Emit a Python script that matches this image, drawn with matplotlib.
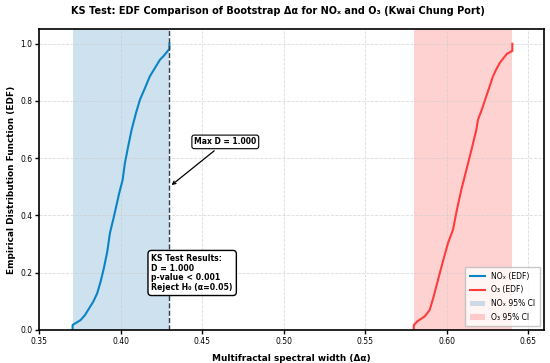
import numpy as np
import matplotlib.pyplot as plt

# EDF points (x = delta alpha, y = cumulative fraction)
nox_x = [0.3703, 0.3703, 0.3728, 0.3753, 0.3779, 0.3805, 0.3830, 0.3854, 0.3875, 0.3895,
         0.3916, 0.3932, 0.3952, 0.3973, 0.3989, 0.4010, 0.4024, 0.4044, 0.4065, 0.4092,
         0.4116, 0.4147, 0.4177, 0.4208, 0.4239, 0.4263, 0.4290, 0.4297, 0.4297]
nox_y = [0.0, 0.0175, 0.026, 0.035, 0.052, 0.076, 0.099, 0.128, 0.169, 0.216,
         0.274, 0.338, 0.385, 0.437, 0.478, 0.524, 0.583, 0.641, 0.699, 0.758,
         0.804, 0.845, 0.886, 0.915, 0.944, 0.958, 0.977, 0.980, 1.0]
o3_x = [0.5796, 0.5796, 0.5822, 0.5863, 0.5894, 0.5918, 0.5945, 0.5972, 0.6006, 0.6037,
        0.6061, 0.6088, 0.6119, 0.6150, 0.6180, 0.6190, 0.6217, 0.6241, 0.6262, 0.6282,
        0.6303, 0.6323, 0.6347, 0.6368, 0.6395, 0.6401, 0.6401]
o3_y = [0.0, 0.017, 0.032, 0.047, 0.070, 0.116, 0.175, 0.233, 0.303, 0.350,
        0.420, 0.490, 0.559, 0.629, 0.699, 0.734, 0.775, 0.816, 0.851, 0.886,
        0.911, 0.932, 0.950, 0.965, 0.973, 0.975, 1.0]

nox_ci = (0.3703, 0.4297)
o3_ci = (0.5796, 0.6401)
max_d_x = 0.4297
ks_d = 1.000

fig, ax = plt.subplots(figsize=(5.5, 3.63), dpi=100)
fig.subplots_adjust(left=0.0718, right=0.989, bottom=0.091, top=0.919)

ax.axvspan(*nox_ci, color='#1f77b4', alpha=0.22, lw=0, label='NOₓ 95% CI')
ax.axvspan(*o3_ci, color='#ff4d4d', alpha=0.25, lw=0, label='O₃ 95% CI')
ax.plot(nox_x, nox_y, color='#0a84c6', lw=1.5, label='NOₓ (EDF)')
ax.plot(o3_x, o3_y, color='#ff3b3b', lw=1.5, label='O₃ (EDF)')
ax.axvline(max_d_x, color='#2c3e50', ls='--', lw=1.0)

ax.annotate(f'Max D = {ks_d:.3f}', xy=(max_d_x, 0.5), xytext=(0.464, 0.657),
            ha='center', va='center', fontsize=5.5, fontweight='bold',
            bbox=dict(boxstyle='round,pad=0.3', fc='white', ec='black', lw=0.8),
            arrowprops=dict(arrowstyle='->', color='black', lw=0.9))

ax.text(0.222, 0.253, f'KS Test Results:\nD = {ks_d:.3f}\np-value < 0.001\nReject H₀ (α=0.05)',
        transform=ax.transAxes, ha='left', va='top', fontsize=5.6, fontweight='bold',
        linespacing=1.1,
        bbox=dict(boxstyle='round,pad=0.45', fc='white', ec='black', lw=1.0))

ax.set_xlim(0.35, 0.6595)
ax.set_ylim(0, 1.05)
ax.set_xticks([0.35, 0.40, 0.45, 0.50, 0.55, 0.60, 0.65])
ax.tick_params(labelsize=5.5, width=1, length=3, pad=2)
ax.grid(True, ls='--', color='#cccccc', alpha=0.7, lw=0.6)
for s in ax.spines.values():
    s.set_linewidth(1.2)

ax.set_xlabel('Multifractal spectral width (Δα)', fontsize=6.4, fontweight='bold', labelpad=6)
ax.set_ylabel('Empirical Distribution Function (EDF)', fontsize=6.4, fontweight='bold', labelpad=3)
fig.text(0.505, 0.971, 'KS Test: EDF Comparison of Bootstrap Δα for NOₓ and O₃ (Kwai Chung Port)',
         ha='center', va='center', fontsize=7.0, fontweight='bold')

h, lab = ax.get_legend_handles_labels()
order = [2, 3, 0, 1]
ax.legend([h[i] for i in order], [lab[i] for i in order], loc='lower right',
          fontsize=5.5, frameon=True, edgecolor='#bbbbbb', fancybox=False,
          borderpad=0.6, labelspacing=0.6)

fig.savefig('out.png', dpi=100)
